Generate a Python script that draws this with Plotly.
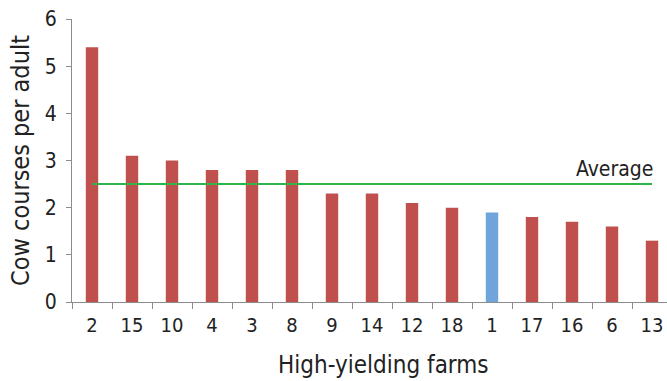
import plotly.graph_objects as go

# Farms ordered by cow courses per adult
farms = ["2", "15", "10", "4", "3", "8", "9", "14", "12", "18", "1", "17", "16", "6", "13"]
courses = [5.4, 3.1, 3.0, 2.8, 2.8, 2.8, 2.3, 2.3, 2.1, 2.0, 1.9, 1.8, 1.7, 1.6, 1.3]
highlight_farm = "1"
average = 2.5
y_ticks = [0, 1, 2, 3, 4, 5, 6]

RED = "#c0504d"
BLUE = "#6fa5da"
GREEN = "#2fb44a"
AXIS = "#8c8c8c"
TEXT = "#222222"
FONT = "DejaVu Sans Condensed"

bar_colors = [BLUE if f == highlight_farm else RED for f in farms]
last_idx = len(farms) - 1

fig = go.Figure()
fig.add_trace(go.Bar(x=farms, y=courses, marker_color=bar_colors,
                     marker_line_width=0, showlegend=False, hoverinfo="x+y"))
fig.add_trace(go.Scatter(x=[farms[0], farms[-1]], y=[average, average],
                         mode="lines", line=dict(color=GREEN, width=2),
                         showlegend=False, hoverinfo="skip"))
# label sits above the right end of the average line (x as category index)
fig.add_annotation(x=last_idx, y=average, text="Average", showarrow=False,
                   xanchor="right", yanchor="bottom", xshift=3, yshift=1,
                   font=dict(family=FONT, size=21, color=TEXT))
# x-axis title placed below the tick labels
fig.add_annotation(x=0.524, y=0, xref="paper", yref="paper", yshift=-47,
                   text="High-yielding farms", showarrow=False,
                   xanchor="center", yanchor="top",
                   font=dict(family=FONT, size=24, color=TEXT))

fig.update_layout(
    width=667, height=381,
    margin=dict(l=72, r=0, t=19, b=79),
    plot_bgcolor="white", paper_bgcolor="white",
    bargap=0.69,
    font=dict(family=FONT, color=TEXT),
)
fig.update_xaxes(
    type="category", range=[-0.5, len(farms) - 0.625],
    showline=True, linecolor=AXIS, linewidth=1,
    ticks="outside", tickson="boundaries", ticklen=6, tickcolor=AXIS,
    tickfont=dict(size=20), ticklabelstandoff=5, showgrid=False,
)
fig.update_yaxes(
    range=[0, 6], tickvals=y_ticks,
    showline=True, linecolor=AXIS, linewidth=1,
    ticks="outside", ticklen=5, tickcolor=AXIS,
    tickfont=dict(size=21), ticklabelstandoff=5, showgrid=False, zeroline=False,
    title=dict(text="Cow courses per adult", font=dict(size=25), standoff=8),
)

fig.write_html("out.html")
